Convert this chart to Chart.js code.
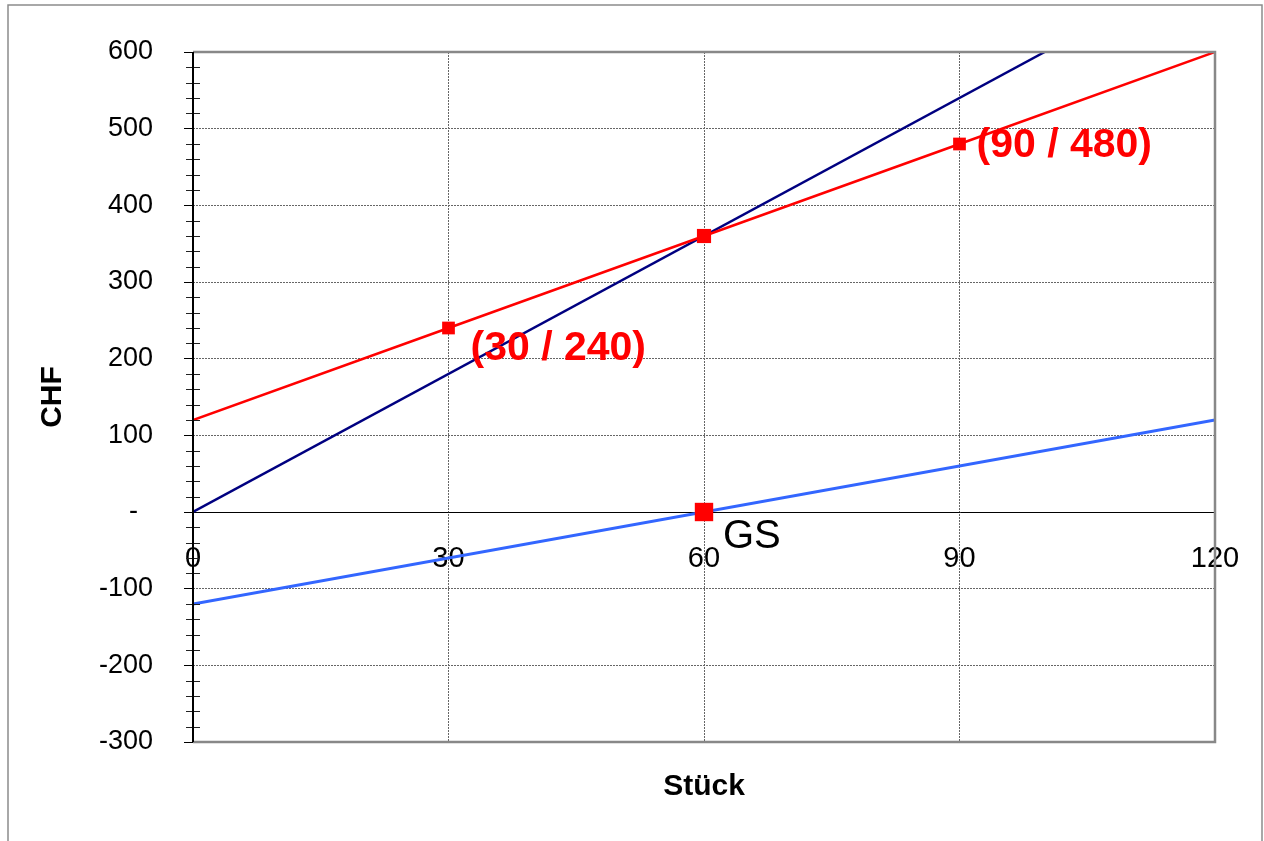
<!DOCTYPE html>
<html>
<head>
<meta charset="utf-8">
<script src="https://cdn.jsdelivr.net/npm/chart.js@4.4.1/dist/chart.umd.min.js"></script>
<style>
  html, body { margin: 0; padding: 0; background: #fff; }
  canvas { display: block; }
</style>
</head>
<body>
<canvas id="gsChart" width="1264" height="841"></canvas>
<script>
// Stückzahlen und Werte (CHF)
const stueck = [0, 30, 60, 90, 120];
const gesamtkosten = [120, 240, 360, 480, 600];
const erloesStueck = [0, 100];
const erloes = [0, 600];
const gewinnStueck = [0, 120];
const gewinn = [-120, 120];
const gsStueck = 60;
const gsWert = 0;
const yTicks = { min: -300, max: 600, step: 100, minorStep: 20 };
const xTicks = { min: 0, max: 120, step: 30 };

const toPoints = (xs, ys) => xs.map((x, i) => ({ x: x, y: ys[i] }));

// Rahmen, Nebenstriche und Beschriftungen
const extrasPlugin = {
    id: 'extras',
    beforeDraw(chart) {
        const ctx = chart.ctx;
        ctx.save();
        ctx.fillStyle = '#fff';
        ctx.fillRect(0, 0, chart.width, chart.height);
        ctx.strokeStyle = '#8c8c8c';
        ctx.lineWidth = 1.5;
        ctx.beginPath();
        ctx.moveTo(8, chart.height);
        ctx.lineTo(8, 5);
        ctx.lineTo(1262, 5);
        ctx.lineTo(1262, chart.height);
        ctx.stroke();
        ctx.restore();
    },
    afterDraw(chart) {
        const ctx = chart.ctx;
        const area = chart.chartArea;
        const y = chart.scales.y;
        ctx.save();
        // Plotrahmen oben, rechts, unten
        ctx.strokeStyle = '#888';
        ctx.lineWidth = 2.5;
        ctx.beginPath();
        ctx.moveTo(area.left, area.top);
        ctx.lineTo(area.right, area.top);
        ctx.lineTo(area.right, area.bottom);
        ctx.lineTo(area.left, area.bottom);
        ctx.stroke();
        // Nebenstriche auf der y-Achse
        ctx.strokeStyle = '#222';
        ctx.lineWidth = 1;
        for (let v = yTicks.min; v <= yTicks.max; v += yTicks.minorStep) {
            if (v % yTicks.step === 0) continue;
            const py = Math.round(y.getPixelForValue(v)) + 0.5;
            ctx.beginPath();
            ctx.moveTo(area.left - 7, py);
            ctx.lineTo(area.left + 7, py);
            ctx.stroke();
        }
        // y-Achse
        ctx.strokeStyle = '#000';
        ctx.lineWidth = 2;
        ctx.beginPath();
        ctx.moveTo(area.left, area.top);
        ctx.lineTo(area.left, area.bottom);
        ctx.stroke();

        // Punktbeschriftungen
        const kosten = chart.getDatasetMeta(1).data;
        ctx.fillStyle = '#ff0000';
        ctx.font = 'bold 41px "Liberation Sans", Arial, sans-serif';
        ctx.textAlign = 'left';
        ctx.textBaseline = 'middle';
        ctx.fillText('(' + stueck[1] + ' / ' + gesamtkosten[1] + ')', kosten[1].x + 22, kosten[1].y + 21);
        ctx.fillText('(' + stueck[3] + ' / ' + gesamtkosten[3] + ')', kosten[3].x + 17, kosten[3].y + 2);
        const gs = chart.getDatasetMeta(0).data[0];
        ctx.fillStyle = '#000';
        ctx.font = '40px "Liberation Sans", Arial, sans-serif';
        ctx.fillText('GS', gs.x + 19, gs.y + 25);
        ctx.restore();
    }
};

const ctx = document.getElementById('gsChart').getContext('2d');
new Chart(ctx, {
    type: 'scatter',
    data: {
        datasets: [
            {
                label: 'Gewinnschwelle',
                data: [{ x: gsStueck, y: gsWert }],
                pointStyle: 'rect',
                pointRadius: 13,
                pointBorderWidth: 0,
                pointBackgroundColor: '#ff0000',
                showLine: false
            },
            {
                label: 'Gesamtkosten',
                data: toPoints(stueck, gesamtkosten),
                showLine: true,
                borderColor: '#ff0000',
                borderWidth: 2.5,
                pointStyle: 'rect',
                pointRadius: [0, 9, 10, 9, 0],
                pointBorderWidth: 0,
                pointBackgroundColor: '#ff0000'
            },
            {
                label: 'Erlös',
                data: toPoints(erloesStueck, erloes),
                showLine: true,
                borderColor: '#000080',
                borderWidth: 2.5,
                pointRadius: 0
            },
            {
                label: 'Gewinn',
                data: toPoints(gewinnStueck, gewinn),
                showLine: true,
                borderColor: '#3366ff',
                borderWidth: 3,
                pointRadius: 0
            }
        ]
    },
    options: {
        responsive: false,
        animation: false,
        layout: { padding: { left: 30, top: 52, right: 49, bottom: 0 } },
        plugins: {
            legend: { display: false },
            tooltip: { enabled: false }
        },
        scales: {
            x: {
                type: 'linear',
                position: { y: 0 },
                min: xTicks.min,
                max: xTicks.max,
                ticks: {
                    stepSize: xTicks.step,
                    padding: 30,
                    color: '#000',
                    font: { family: '"Liberation Sans", Arial, sans-serif', size: 29 },
                    maxRotation: 0
                },
                grid: {
                    drawTicks: false,
                    color: c => (c.tick && (c.tick.value === xTicks.min || c.tick.value === xTicks.max)) ? 'rgba(0,0,0,0)' : '#666',
                    lineWidth: 1
                },
                border: { color: '#000', width: 1, dash: [2, 1] },
                afterFit: s => { s.paddingLeft = 0; s.paddingRight = 0; }
            },
            x2: {
                type: 'linear',
                position: 'bottom',
                min: xTicks.min,
                max: xTicks.max,
                ticks: { display: false },
                grid: { display: false },
                border: { display: false },
                title: {
                    display: true,
                    text: 'Stück',
                    color: '#000',
                    font: { family: '"Liberation Sans", Arial, sans-serif', size: 30, weight: 'bold' },
                    padding: { top: 0, bottom: 36 }
                },
                afterFit: s => { s.height = 99; }
            },
            y: {
                type: 'linear',
                position: 'left',
                min: yTicks.min,
                max: yTicks.max,
                ticks: {
                    stepSize: yTicks.step,
                    padding: 31,
                    color: '#000',
                    font: { family: '"Liberation Sans", Arial, sans-serif', size: 27 },
                    callback: v => v === 0 ? '-  ' : v
                },
                grid: {
                    drawTicks: true,
                    tickLength: 9,
                    tickColor: '#000',
                    tickWidth: 1,
                    color: c => (c.tick && (c.tick.value === yTicks.min || c.tick.value === yTicks.max || c.tick.value === 0)) ? 'rgba(0,0,0,0)' : '#666',
                    lineWidth: 1
                },
                border: { display: false, dash: [2, 1] },
                title: {
                    display: true,
                    text: 'CHF',
                    color: '#000',
                    font: { family: '"Liberation Sans", Arial, sans-serif', size: 30, weight: 'bold' },
                    padding: { top: 5, bottom: 0 }
                },
                afterFit: s => { s.width = 163; }
            }
        }
    },
    plugins: [extrasPlugin]
});
</script>
</body>
</html>
